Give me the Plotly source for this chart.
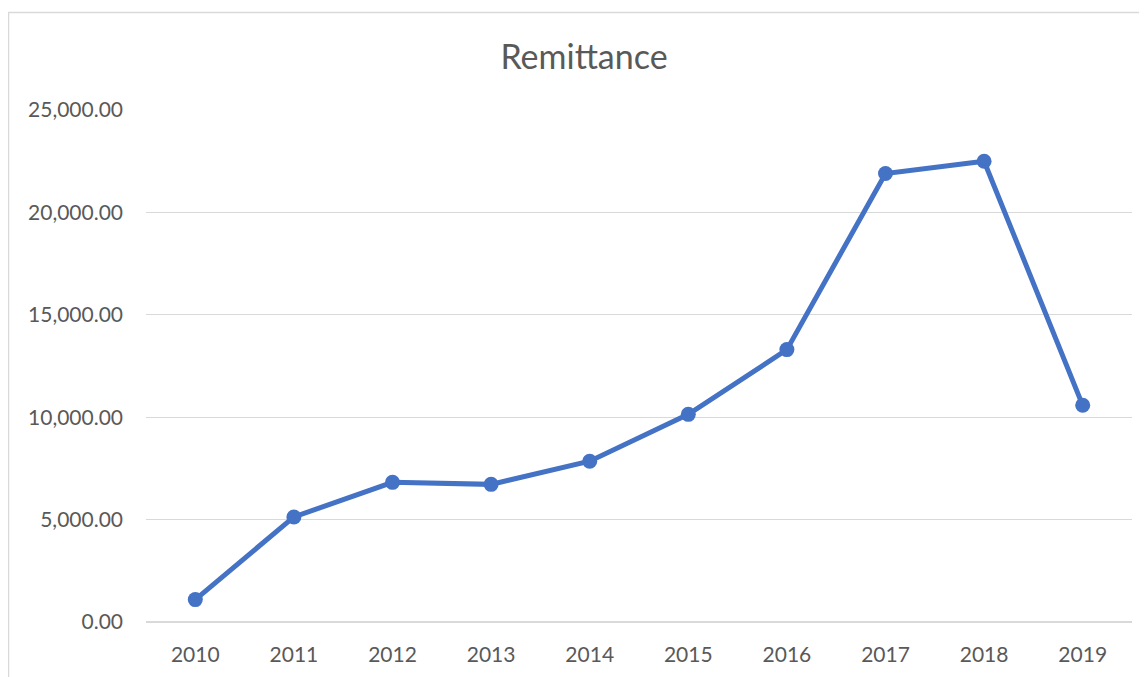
import plotly.graph_objects as go

years = ["2010", "2011", "2012", "2013", "2014", "2015", "2016", "2017", "2018", "2019"]
remittance = [1094, 5130, 6820, 6720, 7850, 10140, 13300, 21900, 22500, 10580]
y_ticks = [0, 5000, 10000, 15000, 20000, 25000]

W, H = 1147, 677
OFF = 8  # page body margin offset
L, R, T, B = 146 - OFF, 15 + OFF, 110 - OFF, 55 + OFF
pw, ph = W - L - R, H - T - B

fig = go.Figure()
fig.add_trace(go.Scatter(
    x=years, y=remittance, mode="lines+markers",
    line=dict(color="#4472C4", width=5),
    marker=dict(color="#4472C4", size=15),
    name="Remittance", showlegend=False,
))

font_family = "Lato, 'Open Sans', sans-serif"
fig.update_layout(
    width=W, height=H,
    margin=dict(l=L, r=R, t=T, b=B),
    paper_bgcolor="white", plot_bgcolor="white",
    font=dict(family=font_family, color="#595959", size=21),
    title=dict(text="Remittance", x=(584 - OFF) / W, xanchor="center",
               y=1 - (57 - OFF) / H, yanchor="middle", yref="container",
               font=dict(size=34, color="#595959", family=font_family)),
    xaxis=dict(type="category", range=[-0.5, 9.5], showgrid=False,
               showline=False, zeroline=False, ticks="",
               ticklabelstandoff=18, tickfont=dict(size=21, color="#595959")),
    yaxis=dict(range=[0, 25000], tickvals=y_ticks, tickformat=",.2f",
               showgrid=True, gridcolor="#D9D9D9", gridwidth=1,
               zeroline=True, zerolinecolor="#D9D9D9", zerolinewidth=1.5,
               showline=False, ticks="", ticklabelstandoff=22,
               tickfont=dict(size=21, color="#595959")),
)

# chart-area border (light gray), extends past right/bottom edge like the reference
x0 = (8.5 - OFF - L) / pw
x1 = (W + 5 - L) / pw
y_top = (H - B - (12.5 - OFF)) / ph
y_bot = (H - B - (H + 5)) / ph
fig.add_shape(type="rect", xref="paper", yref="paper",
              x0=x0, x1=x1, y0=y_bot, y1=y_top,
              line=dict(color="#D9D9D9", width=1.5), fillcolor="rgba(0,0,0,0)",
              layer="below")

fig.write_html("out.html")
